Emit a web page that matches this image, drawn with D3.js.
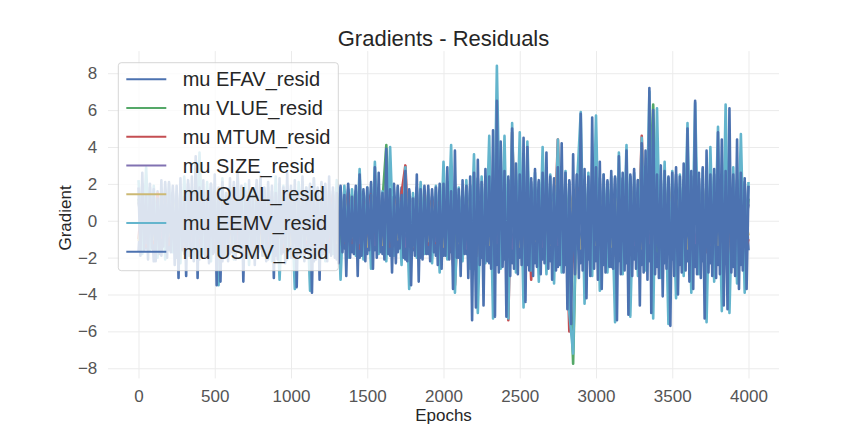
<!DOCTYPE html>
<html>
<head>
<meta charset="utf-8">
<script src="https://d3js.org/d3.v7.min.js"></script>
<style>
  body { margin: 0; background: #ffffff; }
  svg { display: block; font-family: "Liberation Sans", Arial, sans-serif; }
</style>
</head>
<body>
<div id="chart"></div>
<script>
// series names and palette (seaborn deep, the 7th colour wraps round)
const seriesNames = ["mu EFAV_resid", "mu VLUE_resid", "mu MTUM_resid", "mu SIZE_resid",
                     "mu QUAL_resid", "mu EEMV_resid", "mu USMV_resid"];
const colors = ["#4c72b0", "#55a868", "#c44e52", "#8172b2", "#ccb974", "#64b5cd", "#4c72b0"];
const lastEpoch = 4000;
const xTicks = [0, 500, 1000, 1500, 2000, 2500, 3000, 3500, 4000];
const yTicks = [-8, -6, -4, -2, 0, 2, 4, 6, 8];

// values, evenly spread over 0..4000 epochs
const efav = [
  -1.7, 2.0, -1.5, 1.8, -2.2, 1.6, -1.9, 2.1,  -1.6, 1.9, -2.0, 1.7, -1.8, 2.2, -1.5, 1.8,
  -2.1, 1.6, -1.9, 2.0, -1.7, 1.8, -2.2, 1.5,  -1.8, 2.1, -1.6, 1.9, -2.0, 1.7, -1.9, 2.2,
  -1.5, 1.8, -2.1, 1.6, -1.9, 2.0, -1.7, 1.9,  -2.0, 1.7, -1.8, 2.1, -1.6, 1.9, -2.2, 1.8,
  -1.9, 2.0, -1.7, 1.6, -2.1, 1.8, -1.5, 2.0,  -1.7, 1.9, -2.0, 1.7, -1.8, 2.1, -1.6, 1.8,
  -1.8, 1.6, -1.9, 2.0, -1.7, 1.8, -2.1, 1.7,  -1.6, 1.8, -2.0, 1.9, -1.8, 1.7, -1.9, 2.0,
  -1.9, 2.1, -1.7, 1.8, -2.0, 1.6, -1.8, 1.9,  -2.2, 2.3, -2.0, 2.4, -2.3, 2.1, -2.4, 2.2,
  -2.1, 2.4, -2.3, 2.2, -2.0, 2.5, -2.4, 2.1,  -2.3, 2.2, -2.1, 2.4, -2.2, 2.3, -2.5, 2.0,
  -2.4, 2.1, -2.2, 2.5, -2.3, 2.2, -2.1, 2.4,  -2.2, 2.3, -2.4, 2.1, -2.5, 2.4, -2.2, 2.3,
  -2.3, 2.5, -2.1, 2.2, -2.4, 2.3, -2.2, 2.1,  -2.5, 2.2, -2.3, 2.4, -2.1, 2.5, -2.4, 2.2,
  -2.2, 2.4, -2.5, 2.3, -2.2, 2.1, -2.3, 2.5,  -2.4, 2.2, -2.1, 2.3, -2.5, 2.2, -2.4, 2.1,
  -1.6
];
const vlue = [
  1.2, -1.1, 1.5, -1.3, 0.9, -1.4, 1.3, -1.0,  1.1, -1.5, 0.8, -1.2, 1.4, -0.9, 1.2, -1.3,
  1.3, -1.0, 1.6, -1.4, 1.0, -1.2, 1.5, -1.1,  0.9, -1.3, 1.2, -1.0, 1.4, -1.5, 1.1, -1.2,
  1.5, -1.1, 1.0, -1.4, 1.3, -0.9, 1.2, -1.3,  1.0, -1.2, 1.4, -1.1, 0.9, -1.5, 1.3, -1.0,
  1.2, -1.4, 1.1, -1.0, 1.5, -1.3, 0.8, -1.2,  1.4, -1.0, 1.2, -1.3, 1.0, -1.1, 1.6, -1.4,
  1.1, 4.1, -1.2, -1.0, 1.3, -1.4, 1.5, -1.1,  1.2, -1.3, 1.0, -1.2, 1.4, -1.0, 1.1, -1.5,
  1.5, -1.2, 1.3, -1.6, 1.0, -1.3, 1.4, -1.1,  1.6, -1.8, 1.4, -1.5, 1.9, -1.7, 2.0, -1.4,
  1.8, -1.9, 1.5, -1.6, 1.7, -1.8, 1.6, -1.5,  1.7, -1.6, 1.9, -1.4, 1.5, -1.7, 1.8, -1.9,
  1.6, -1.8, -7.75, 1.5, 1.9, -1.6, 1.4, -1.7, 1.8, -1.5, 1.6, -1.9, 1.7, -1.8, 1.5, -1.6,
  1.9, -1.7, 1.6, -1.5, 1.8, -1.9, 1.4, 6.3,   -1.6, -1.8, 1.7, -1.5, 1.6, -1.9, 1.8, -1.7,
  1.5, -1.6, 1.9, -1.8, 1.7, -1.5, 1.6, -1.9,  1.8, -1.7, 1.5, -1.6, 1.9, -1.8, 1.7, -1.5,
  1.2
];
const mtum = [
  -1.0, 1.3, -1.4, 1.1, -1.2, 1.5, -0.9, 1.2,  -1.3, 1.0, -1.1, 1.4, -1.5, 1.2, -1.0, 1.3,
  -1.2, 1.4, -1.0, 1.1, -1.3, 1.2, -1.5, 1.0,  -1.1, 1.3, -1.4, 1.5, -1.0, 1.2, -1.3, 1.1,
  -1.4, 1.0, -1.2, 1.3, -1.1, 1.4, -1.5, 1.2,  -1.0, 1.5, -1.3, 1.1, -1.2, 1.0, -1.4, 1.3,
  -1.3, 1.2, -1.1, 1.4, -1.0, 1.3, -1.2, 1.5,  -1.2, 1.1, -1.5, 1.0, -1.3, 1.4, -1.1, 1.2,
  -1.1, 1.3, -1.4, 1.2, -1.0, 1.5, 3.0, -1.3,  -1.5, 1.2, -1.0, 1.4, -1.3, 1.1, -1.2, 1.0,
  -1.4, 1.3, -1.1, -3.5, 1.2, -1.5, 1.4, -1.6, 1.7, -1.9, 1.5, -1.6, 1.8, -1.7, 1.9, -1.5,
  1.6, -5.4, 4.8, -1.8, 1.7, -1.6, 1.5, -3.2,  1.8, -1.7, 1.6, -1.9, 1.5, -1.6, 4.4, -1.8,
  1.7, -6.0, -1.6, 1.8, 1.5, -1.9, 1.6, -1.7,  1.9, -1.8, 1.6, -1.5, 1.7, -1.9, 1.8, -1.6,
  1.5, -1.7, 1.9, -1.8, 4.6, -1.6, 1.7, -1.9,  1.6, -1.5, 1.8, -1.7, 1.9, -1.6, 1.5, -1.8,
  1.7, -1.9, 1.6, -1.5, 1.8, -1.7, 1.9, -1.6,  1.5, -1.8, 1.7, -1.9, 1.6, -1.5, 1.8, -1.7,
  -1.0
];
const size = [
  1.0, -1.2, 1.1, -0.9, 1.3, -1.0, 0.8, -1.1,  1.2, -1.3, 0.9, -1.0, 1.1, -1.2, 1.0, -0.8,
  1.3, -1.1, 1.0, -1.2, 0.9, -1.3, 1.2, -1.0,  1.1, -0.9, 1.3, -1.1, 1.0, -1.2, 1.4, -1.3,
  1.2, -1.0, 1.1, -1.4, 1.3, -1.2, 1.0, -1.1,  1.5, -1.3, 1.4, -1.5, 1.2, -1.4, 1.3, -1.2,
  1.4, -1.5, 1.3, -1.1, 1.5, -1.4, 1.2, -1.3,  1.1, -1.4, 1.5, -1.2, 1.3, -1.5, 1.4, -1.1,
  1.2, -1.3, 1.4, -1.2, 1.5, -1.4, 1.3, -1.5,  1.4, -1.2, 1.1, -1.3, 1.5, -1.1, 1.2, -1.4,
  0.9
];
const qual = [
  -1.1, 0.9, -1.0, 1.2, -0.8, 1.1, -1.3, 1.0,  -0.9, 1.2, -1.1, 1.0, -1.2, 0.8, -1.0, 1.3,
  -1.2, 1.0, -0.9, 1.1, -1.3, 1.2, -1.0, 0.9,  -1.1, 1.3, -1.2, 1.0, -0.9, 1.1, -1.4, 1.2,
  -1.3, 1.1, -1.0, 1.2, -1.4, 1.3, -1.1, 1.0,  -1.4, 1.5, -1.2, 1.3, -1.5, 1.4, -1.3, 1.2,
  -1.5, 1.3, -1.4, 1.2, -1.1, 1.5, -1.3, 1.4,  -1.2, 1.4, -1.5, 1.1, -1.3, 1.2, -1.4, 1.5,
  -1.3, 1.2, -1.5, 1.4, -1.2, 1.3, -1.1, 1.4,  -1.5, 1.3, -1.2, 1.4, -1.3, 1.5, -1.1, 1.2,
  -0.8
];
const eemv = [
  2.2, -1.8, 2.9, -1.6, 1.9, -2.0, 1.7, -2.1,  2.0, -1.7, 1.6, -2.3, 2.4, -1.9, 1.8, -2.0,
  3.7, -1.8, 2.1, -2.2, 1.7, -3.5, 2.3, -1.9,  1.8, -2.1, 2.5, -1.7, 2.0, -2.4, 1.6, -2.0,
  2.2, -1.9, 1.8, -2.2, 2.4, -3.2, 1.9, -2.1,  1.7, -3.7, 2.1, -2.0, 1.8, -3.8, 2.3, -1.9,
  2.0, -2.2, 1.6, -1.8, 2.2, -3.2, 1.9, -2.0,  1.7, -1.9, 2.8, -2.1, 1.8, -2.6, 3.2, -1.8,
  1.6, -2.2, 4.0, -1.9, 1.8, -2.4, 2.9, -3.7,  1.5, -2.0, 2.1, -1.8, 1.7, -2.3, 1.9, -2.8,
  3.2, -2.1, 4.1, -3.9, 1.8, -2.2, 2.2, -2.6,  3.6, -5.0, 2.4, -2.3, 4.6, -5.3, 8.4, -2.6,
  4.6, -5.3, 5.3, -2.8, 4.8, -4.7, 4.3, -2.7,  2.6, -3.3, 4.0, -2.9, 2.5, -3.4, 4.4, -2.8,
  2.7, -5.0, -7.2, 1.9, 5.9, -4.5, 2.6, -3.0,  5.7, -3.8, 2.5, -2.8, 2.4, -5.5, 3.7, -2.9,
  4.1, -5.2, 2.6, -3.0, 4.5, -2.7, 7.0, -5.3,  6.1, -3.1, 3.2, -5.6, 2.7, -4.2, 2.5, -3.0,
  5.3, -3.9, 6.4, -2.9, 2.8, -5.5, 4.0, -3.3,  5.1, -4.9, 6.3, -5.0, 2.9, -3.4, 4.7, -3.9,
  2.1
];
const usmv = [
  1.8, -1.9, 2.6, -1.6, 1.4, -2.1, 2.0, -1.5,  1.7, -2.2, 1.2, -1.8, 2.2, -1.4, 1.6, -2.0,
  2.1, -1.7, 1.5, -2.4, 1.9, -3.1, 2.3, -1.6,  1.3, -3.0, 2.0, -1.9, 2.4, -2.2, 3.5, -3.1,
  1.8, -1.5, 2.2, -2.0, 1.6, -2.3, 2.0, -1.8,  2.5, -3.5, 1.7, -3.3, 2.1, -1.9, 1.5, -2.2,
  2.3, -1.7, 1.9, -2.1, 2.6, -1.6, 1.8, -3.3,  1.6, -2.0, 2.2, -1.8, 1.4, -2.4, 2.0, -1.7,
  2.4, -1.9, 1.7, -2.2, 2.1, -1.5, 1.9, -3.1,  1.5, -2.1, 2.3, -1.8, 1.8, -2.3, 2.6, -1.6,
  1.9, -2.0, 2.2, -3.6, 1.6, -1.9, 2.4, -2.2,  1.8, -1.7, 2.0, -3.9, 2.3, -2.1, 1.7, -3.2,
  2.1, -1.8, 1.6, -2.2, 2.4, -1.9, 1.8, -2.0,  1.5, -2.3, 1.9, -1.7, 1.4, -3.0, 1.7, -2.0,
  1.3, -1.8, 1.6, -3.0, 2.5, -1.9, 1.2, -2.2,  1.8, -1.6, 1.4, -2.6, 2.9, -2.0, 2.6, -1.7,
  1.5, -2.1, 3.9, -1.8, 1.7, -2.8, 1.3, -2.3,  1.9, -1.5, 1.4, -2.0, 2.7, -2.2, 1.6, -3.5,
  1.2, -1.9, 2.5, -3.3, 1.7, -2.1, 1.5, -1.8,  1.9, -2.2, 1.3, -1.7, 1.8, -2.4, 1.5, -2.6,
  2.0, -1.9, 2.9, -2.1, 1.6, -3.7, 3.8, -2.0,  1.7, -3.0, 2.2, -1.8, 1.9, -3.1, 2.4, -5.4,
  2.6, -4.7, 3.3, -2.4, 2.1, -4.6, 2.8, -2.2,  2.4, -2.6, 4.9, -5.2, 6.5, -2.8, 4.3, -2.5,
  2.7, -5.2, 2.2, -3.0, 5.0, -2.6, 3.1, -2.9,  2.5, -2.4, 4.5, -4.4, 4.0, -2.7, 2.3, -3.0,
  2.8, -2.5, 2.1, -2.9, 2.6, -2.3, 3.7, -2.6,  2.4, -3.2, 1.9, -2.7, 2.9, -2.4, 4.2, -2.8,
  2.6, -4.8, 2.2, -5.6, 3.6, -2.9, 2.5, -3.1,  5.8, -2.7, 2.8, -4.2, 2.4, -3.0, 5.6, -2.6,
  2.9, -3.2, 3.2, -3.7, 2.5, -2.8, 2.2, -2.5,  2.7, -2.6, 2.3, -5.4, 3.5, -2.9, 2.6, -2.7,
  3.8, -5.1, 2.4, -3.0, 2.8, -2.6, 2.2, -4.6,  4.2, -2.8, 3.8, -3.2, 7.2, -5.0, 6.0, -2.9,
  2.5, -3.1, 3.0, -4.1, 2.7, -2.6, 2.3, -5.7,  2.6, -3.0, 2.9, -4.0, 2.4, -2.8, 3.1, -2.7,
  5.0, -3.3, 2.7, -3.7, 6.5, -2.9, 2.6, -3.1,  2.9, -5.3, 3.8, -2.8, 2.5, -3.0, 2.8, -3.1,
  4.8, -2.9, 4.4, -4.6, 2.7, -4.8, 6.1, -2.8,  2.5, -3.0, 4.4, -3.7, 2.6, -2.7, 2.3, -3.7,
  1.9
];
const allSeries = [efav, vlue, mtum, size, qual, eemv, usmv];

const width = 864, height = 432;
const plotLeft = 108, plotRight = 779, plotTop = 51.1, plotBottom = 378.4;

const svg = d3.select("#chart").append("svg")
  .attr("width", width)
  .attr("height", height)
  .style("background", "#ffffff");

const x = d3.scaleLinear().domain([-200, 4200]).range([plotLeft, plotRight]);
const y = d3.scaleLinear().domain([-8.55, 9.2]).range([plotBottom, plotTop]);

// grid + tick labels, no spines
const xAxis = svg.append("g")
  .attr("transform", `translate(0,${plotBottom})`)
  .call(d3.axisBottom(x).tickValues(xTicks).tickFormat(d3.format("d"))
    .tickSize(-(plotBottom - plotTop)).tickPadding(11.6));
const yAxis = svg.append("g")
  .attr("transform", `translate(${plotLeft},0)`)
  .call(d3.axisLeft(y).tickValues(yTicks).tickFormat(d3.format("d"))
    .tickSize(-(plotRight - plotLeft)).tickPadding(10.7));
[xAxis, yAxis].forEach(g => {
  g.select(".domain").remove();
  g.selectAll(".tick line").attr("stroke", "#ebebeb").attr("stroke-width", 1);
  g.selectAll(".tick text").attr("fill", "#555555")
    .style("font-size", "17px").style("font-family", "'Liberation Sans', Arial, sans-serif");
});

// series - the dense 4000-epoch traces read as a solid band, so a wider stroke
const line = d3.line()
  .x((d, i, arr) => x(i * lastEpoch / (arr.length - 1)))
  .y(d => y(d));
svg.append("g").selectAll("path")
  .data(allSeries)
  .join("path")
  .attr("d", d => line(d))
  .attr("fill", "none")
  .attr("stroke", (d, i) => colors[i])
  .attr("stroke-width", 2.6)
  .attr("stroke-linejoin", "round");

// titles
svg.append("text")
  .attr("x", (plotLeft + plotRight) / 2).attr("y", 46)
  .attr("text-anchor", "middle")
  .attr("fill", "#262626")
  .style("font-size", "22px")
  .text("Gradients - Residuals");
svg.append("text")
  .attr("x", (plotLeft + plotRight) / 2).attr("y", 421)
  .attr("text-anchor", "middle")
  .attr("fill", "#262626")
  .style("font-size", "17px")
  .text("Epochs");
svg.append("text")
  .attr("transform", "translate(71,218) rotate(-90)")
  .attr("text-anchor", "middle")
  .attr("fill", "#262626")
  .style("font-size", "17px")
  .text("Gradient");

// legend
const legend = svg.append("g").attr("transform", "translate(118.3,62.7)");
legend.append("rect")
  .attr("width", 220).attr("height", 208)
  .attr("rx", 3)
  .attr("fill", "#ffffff").attr("fill-opacity", 0.8)
  .attr("stroke", "#cccccc").attr("stroke-opacity", 0.8);
const rows = legend.selectAll("g.row")
  .data(seriesNames)
  .join("g")
  .attr("class", "row")
  .attr("transform", (d, i) => `translate(0,${16.6 + i * 28.75})`);
rows.append("line")
  .attr("x1", 8).attr("x2", 48)
  .attr("stroke", (d, i) => colors[i])
  .attr("stroke-width", 2);
rows.append("text")
  .attr("x", 64.4).attr("dy", "0.35em")
  .attr("fill", "#262626")
  .style("font-size", "20px")
  .text(d => d);
</script>
</body>
</html>
